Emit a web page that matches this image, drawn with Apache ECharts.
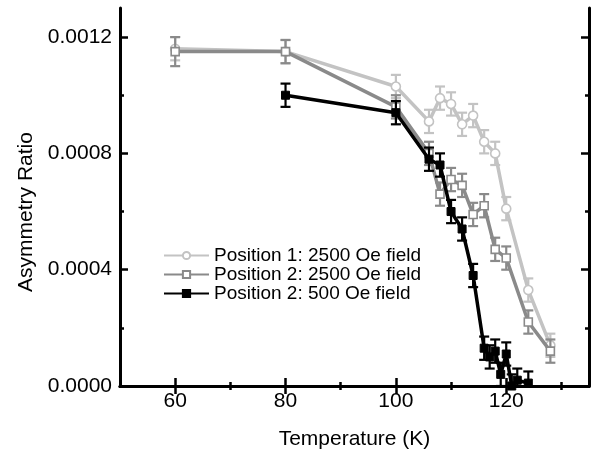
<!DOCTYPE html>
<html>
<head>
<meta charset="utf-8">
<script src="https://cdn.jsdelivr.net/npm/echarts@6/dist/echarts.min.js"></script>
<style>
html,body{margin:0;padding:0;background:#fff;}
#chart{width:593px;height:455px;}
</style>
</head>
<body>
<div id="chart"></div>
<script>
// ---- data ----
const seriesNames = ['Position 1: 2500 Oe field', 'Position 2: 2500 Oe field', 'Position 2: 500 Oe field'];

const temps1 = [60, 80, 100, 106, 108, 110, 112, 114, 116, 118, 120, 124, 128];
const pos1_2500 = [0.00116, 0.00115, 0.00103, 0.00091, 0.00099, 0.00097, 0.00090, 0.00093, 0.00084, 0.00080, 0.00061, 0.00033, 0.00014];
const err1 = [0.00004, 0.00004, 0.00004, 0.00004, 0.00004, 0.00004, 0.00004, 0.00004, 0.00004, 0.00004, 0.00004, 0.00004, 0.00004];

const temps2 = [60, 80, 100, 106, 108, 110, 112, 114, 116, 118, 120, 124, 128];
const pos2_2500 = [0.00115, 0.00115, 0.00096, 0.00080, 0.00066, 0.00071, 0.00069, 0.00059, 0.00062, 0.00047, 0.00044, 0.00022, 0.00012];
const err2 = [0.00005, 0.00004, 0.00004, 0.00004, 0.00004, 0.00004, 0.00004, 0.00004, 0.00004, 0.00004, 0.00004, 0.00004, 0.00004];

const temps3 = [80, 100, 106, 108, 110, 112, 114, 116, 117, 118, 119, 120, 121, 122, 124];
const pos2_500 = [0.00100, 0.00094, 0.00078, 0.00076, 0.00060, 0.00054, 0.00038, 0.00013, 0.00010, 0.00012, 0.00004, 0.00011, 0.00000, 0.00002, 0.00001];
const err3 = [0.00004, 0.00004, 0.00004, 0.00004, 0.00004, 0.00004, 0.00004, 0.00004, 0.00004, 0.00004, 0.00004, 0.00004, 0.00004, 0.00004, 0.00004];

const xMajor = [60, 80, 100, 120];
const xMinor = [70, 90, 110, 130];
const yMajor = [0, 0.0004, 0.0008, 0.0012];
const yMinor = [0.0002, 0.0006, 0.0010];

// ---- styles ----
const colors = ['#c3c3c3', '#8a8a8a', '#000000'];
const FONT = '"Liberation Sans", Arial, Helvetica, sans-serif';

const chart = echarts.init(document.getElementById('chart'), null, {renderer: 'canvas'});

function pts(t, v) { return t.map((x, i) => [x, v[i]]); }
function errPts(t, v, e) { return t.map((x, i) => [x, v[i], e[i]]); }

function errSeries(data, color, z) {
  return {
    type: 'custom',
    data: data,
    clip: true,
    z: z,
    silent: true,
    renderItem: function (params, api) {
      const x = api.value(0), y = api.value(1), e = api.value(2);
      const top = api.coord([x, y + e]);
      const bot = api.coord([x, y - e]);
      const hw = 5;
      const st = {stroke: color, lineWidth: 2.2};
      return {
        type: 'group',
        children: [
          {type: 'line', shape: {x1: top[0], y1: top[1], x2: bot[0], y2: bot[1]}, style: st},
          {type: 'line', shape: {x1: top[0] - hw, y1: top[1], x2: top[0] + hw, y2: top[1]}, style: st},
          {type: 'line', shape: {x1: bot[0] - hw, y1: bot[1], x2: bot[0] + hw, y2: bot[1]}, style: st}
        ]
      };
    },
    encode: {x: 0, y: 1}
  };
}

const axisCommon = {
  type: 'value', min: 50, max: 135,
  splitLine: {show: false}
};

const option = {
  animation: false,
  backgroundColor: '#fff',
  textStyle: {fontFamily: FONT},
  grid: {left: 120, right: 4, top: 8, bottom: 67, containLabel: false},
  xAxis: [
    Object.assign({}, axisCommon, {
      position: 'bottom',
      axisLine: {show: true, lineStyle: {color: '#000', width: 3}},
      axisTick: {show: true, inside: true, length: 8, customValues: xMajor, lineStyle: {color: '#000', width: 2.5}},
      axisLabel: {show: true, customValues: xMajor, fontSize: 21, color: '#000', margin: 5, fontFamily: FONT},
      name: 'Temperature (K)', nameLocation: 'middle', nameGap: 43,
      nameTextStyle: {fontSize: 21, color: '#000', fontFamily: FONT}
    }),
    Object.assign({}, axisCommon, {
      position: 'bottom',
      axisLine: {show: false},
      axisTick: {show: true, inside: true, length: 4, customValues: xMinor, lineStyle: {color: '#000', width: 2.5}},
      axisLabel: {show: false}
    }),
    Object.assign({}, axisCommon, {
      position: 'top',
      axisLine: {show: true, lineStyle: {color: '#000', width: 3}},
      axisTick: {show: true, inside: true, length: 8, customValues: xMajor, lineStyle: {color: '#000', width: 2.5}},
      axisLabel: {show: false}
    }),
    Object.assign({}, axisCommon, {
      position: 'top',
      axisLine: {show: false},
      axisTick: {show: true, inside: true, length: 4, customValues: xMinor, lineStyle: {color: '#000', width: 2.5}},
      axisLabel: {show: false}
    })
  ],
  yAxis: [
    {
      type: 'value', min: 0, max: 0.0013, position: 'left',
      splitLine: {show: false},
      axisLine: {show: true, lineStyle: {color: '#000', width: 3}},
      axisTick: {show: true, inside: true, length: 8, customValues: yMajor, lineStyle: {color: '#000', width: 2.5}},
      axisLabel: {show: true, customValues: yMajor, fontSize: 21, color: '#000', margin: 8, fontFamily: FONT,
        formatter: v => Number(v).toFixed(4)}
    },
    {
      type: 'value', min: 0, max: 0.0013, position: 'left',
      splitLine: {show: false},
      axisLine: {show: false},
      axisTick: {show: true, inside: true, length: 4, customValues: yMinor, lineStyle: {color: '#000', width: 2.5}},
      axisLabel: {show: false}
    },
    {
      type: 'value', min: 0, max: 0.0013, position: 'right',
      splitLine: {show: false},
      axisLine: {show: true, lineStyle: {color: '#000', width: 3}},
      axisTick: {show: true, inside: true, length: 8, customValues: yMajor, lineStyle: {color: '#000', width: 2.5}},
      axisLabel: {show: false}
    },
    {
      type: 'value', min: 0, max: 0.0013, position: 'right',
      splitLine: {show: false},
      axisLine: {show: false},
      axisTick: {show: true, inside: true, length: 4, customValues: yMinor, lineStyle: {color: '#000', width: 2.5}},
      axisLabel: {show: false}
    }
  ],
  legend: {
    orient: 'vertical',
    left: 163, top: 246, padding: 0,
    itemWidth: 45, itemHeight: 9, itemGap: 0,
    textStyle: {fontSize: 19, lineHeight: 17, color: '#000', fontFamily: FONT},
    data: seriesNames
  },
  graphic: [{
    type: 'text', x: 26, y: 212, rotation: Math.PI / 2,
    style: {text: 'Asymmetry Ratio', fontSize: 21, fill: '#000', fontFamily: FONT, align: 'center', verticalAlign: 'middle'}
  }],
  series: [
    errSeries(errPts(temps1, pos1_2500, err1), colors[0], 2),
    {
      name: seriesNames[0], type: 'line', data: pts(temps1, pos1_2500), z: 3,
      symbol: 'circle', symbolSize: 9,
      lineStyle: {color: colors[0], width: 3.5},
      itemStyle: {color: '#fff', borderColor: colors[0], borderWidth: 1.6},
      clip: true
    },
    errSeries(errPts(temps2, pos2_2500, err2), colors[1], 4),
    {
      name: seriesNames[1], type: 'line', data: pts(temps2, pos2_2500), z: 5,
      symbol: 'rect', symbolSize: 8,
      lineStyle: {color: colors[1], width: 3.5},
      itemStyle: {color: '#fff', borderColor: colors[1], borderWidth: 1.6},
      clip: true
    },
    errSeries(errPts(temps3, pos2_500, err3), colors[2], 6),
    {
      name: seriesNames[2], type: 'line', data: pts(temps3, pos2_500), z: 7,
      symbol: 'rect', symbolSize: 8,
      lineStyle: {color: colors[2], width: 3.5},
      itemStyle: {color: '#000', borderColor: '#000', borderWidth: 1},
      clip: true
    }
  ]
};

chart.setOption(option);
</script>
</body>
</html>
